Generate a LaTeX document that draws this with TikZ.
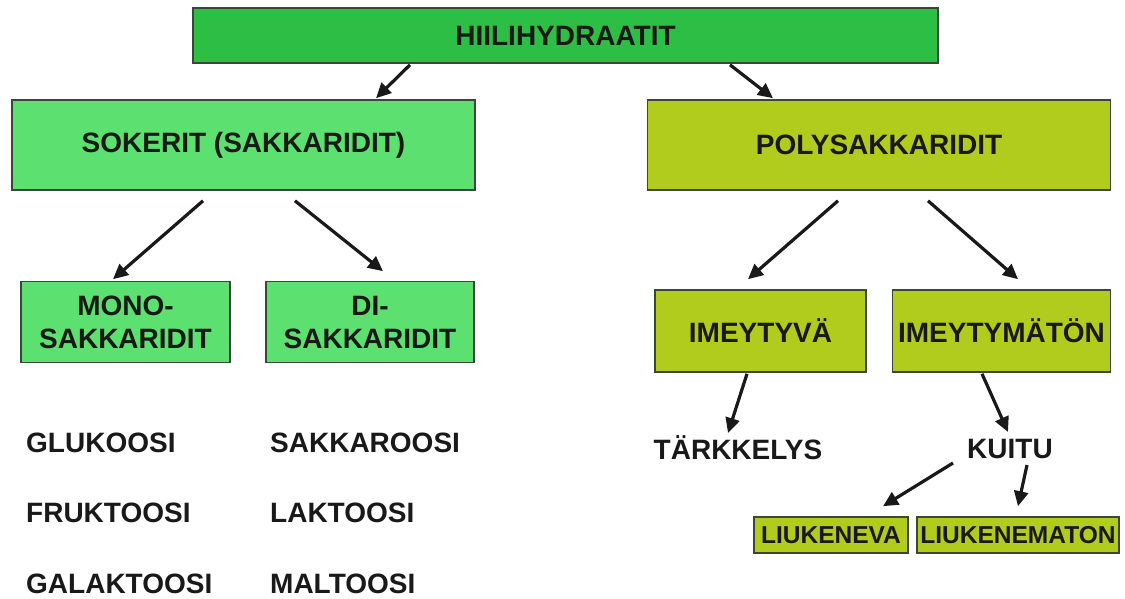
\documentclass[tikz,border=0pt]{standalone}
\usepackage{fontspec}
\setmainfont{Liberation Sans}
\usetikzlibrary{arrows.meta}
\definecolor{topgreen}{HTML}{2DBE45}
\definecolor{lightgreen}{HTML}{5CE070}
\definecolor{olive}{HTML}{B2CC1E}
\definecolor{edgegray}{HTML}{3C463C}
\begin{document}
\begin{tikzpicture}[x=1pt,y=-1pt,
  box/.style={draw=edgegray,line width=1.6pt,inner sep=0pt,align=center,
    font=\fontsize{28}{33}\selectfont\bfseries,text=black!90},
  smallbox/.style={box,font=\fontsize{24.5}{28}\selectfont\bfseries},
  lbl/.style={inner sep=0pt,font=\fontsize{28}{33}\selectfont\bfseries,text=black!90},
  arr/.style={line width=3.2pt,draw=black!90,-{Triangle[length=15pt,width=14pt]}}]
\useasboundingbox[fill=white] (0,0) rectangle (1125,598);
% boxes
\node[box,fill=topgreen,minimum width=745pt,minimum height=55pt] (hiili) at (565.5,35.5) {HIILIHYDRAATIT};
\node[box,fill=lightgreen,minimum width=463pt,minimum height=90pt] (sok) at (243.5,145) {SOKERIT (SAKKARIDIT)};
\node[box,fill=olive,minimum width=463pt,minimum height=90pt] (poly) at (879,145) {POLYSAKKARIDIT};
\node[box,fill=lightgreen,minimum width=209pt,minimum height=81pt] (mono) at (125.5,322) {MONO-\\SAKKARIDIT};
\node[box,fill=lightgreen,minimum width=208pt,minimum height=81pt] (di) at (370,322) {DI-\\SAKKARIDIT};
\node[box,fill=olive,minimum width=211pt,minimum height=82pt] (imey) at (760.5,331) {IMEYTYVÄ};
\node[box,fill=olive,minimum width=218pt,minimum height=82pt] (imeym) at (1001.5,331) {IMEYTYMÄTÖN};
\node[smallbox,fill=olive,minimum width=154pt,minimum height=36pt] (liuk) at (831,535) {LIUKENEVA};
\node[smallbox,fill=olive,minimum width=202pt,minimum height=36pt] (liukm) at (1018,535) {LIUKENEMATON};
% plain labels
\node[lbl] (tark) at (738,448) {TÄRKKELYS};
\node[lbl] (kuitu) at (1010,449) {KUITU};
\node[lbl,anchor=west] (glu) at (26,443) {GLUKOOSI};
\node[lbl,anchor=west] (fru) at (26,513) {FRUKTOOSI};
\node[lbl,anchor=west] (gal) at (26,584) {GALAKTOOSI};
\node[lbl,anchor=west] (sak) at (270,443) {SAKKAROOSI};
\node[lbl,anchor=west] (lak) at (270,513) {LAKTOOSI};
\node[lbl,anchor=west] (mal) at (270,584) {MALTOOSI};
% arrows
\draw[arr] ([shift={(-155.5,1)}]hiili.south) -- ([shift={(132.5,-1)}]sok.north);
\draw[arr] ([shift={(164.5,1)}]hiili.south) -- ([shift={(-106,-1)}]poly.north);
\draw[arr] ([shift={(-40.5,10)}]sok.south) -- ([shift={(-12.5,-1.5)}]mono.north);
\draw[arr] ([shift={(51.5,10)}]sok.south) -- ([shift={(13,-9.5)}]di.north);
\draw[arr] ([shift={(-41,10)}]poly.south) -- ([shift={(-12.5,-10)}]imey.north);
\draw[arr] ([shift={(49,10)}]poly.south) -- ([shift={(16.5,-10)}]imeym.north);
\draw[arr] ([shift={(-13.5,1)}]imey.south) -- ([shift={(-10,-15)}]tark.center);
\draw[arr] ([shift={(-19.5,1)}]imeym.south) -- ([shift={(-2,-17)}]kuitu.center);
\draw[arr] ([shift={(-57,14)}]kuitu.center) -- ([shift={(52,-10)}]liuk.north);
\draw[arr] ([shift={(17,16)}]kuitu.center) -- ([shift={(0,-10)}]liukm.north);
\end{tikzpicture}
\end{document}
